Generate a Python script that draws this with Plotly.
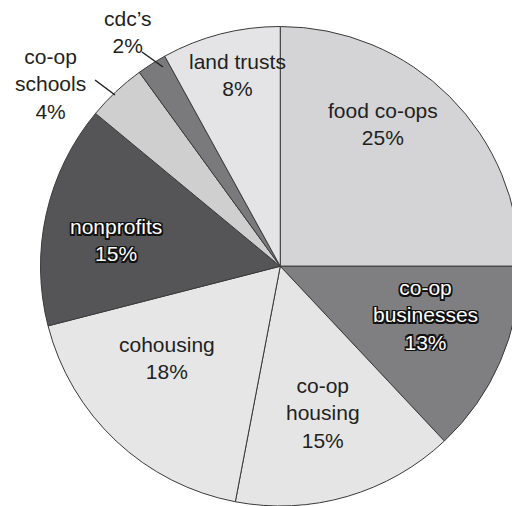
import plotly.graph_objects as go

categories = ["food co-ops", "co-op businesses", "co-op housing", "cohousing",
              "nonprofits", "co-op schools", "cdc's", "land trusts"]
values = [25, 13, 15, 18, 15, 4, 2, 8]
label_texts = ["food co-ops<br>25%", "co-op<br>businesses<br>13%", "co-op<br>housing<br>15%",
               "cohousing<br>18%", "nonprofits<br>15%", "co-op<br>schools<br>4%",
               "cdc\u2019s<br>2%", "land trusts<br>8%"]
colors = ["#d4d4d6", "#7f7f81", "#e5e5e6", "#e6e6e7", "#555557", "#cfcfd0", "#7a7a7c", "#e4e4e6"]
outlined = [False, True, False, False, True, False, False, False]

# browser body margin offsets the figure by 8px; figure is sized to fill the rest
OFF = 8
W, H = 520 - OFF, 506 - OFF
# label centre positions in window pixels (text layout)
label_px = [(383, 124), (425, 315), (323, 413), (167, 358), (116, 240),
            (50, 84), (127, 32), (237, 75)]
# leader lines for the small outside labels (window pixels)
leaders = [((95, 80), (115, 95)), ((142, 52), (163, 67))]

cx, cy, R = 280.5, 266.5, 240


def px2paper(px, py):
    return (px - OFF) / W, 1 - (py - OFF) / H


x0d, y1d = px2paper(cx - R, cy - R)
x1d, y0d = px2paper(cx + R, cy + R)

fig = go.Figure(go.Pie(
    labels=categories, values=values, sort=False, direction="clockwise", rotation=0,
    marker=dict(colors=colors, line=dict(color="#3a3a3a", width=1)),
    textinfo="none", hoverinfo="skip", showlegend=False,
    domain=dict(x=[max(0.0, x0d), min(1.0, x1d)], y=[max(0.0, y0d), min(1.0, y1d)]),
))

annotations = []
for txt, (px, py), ol in zip(label_texts, label_px, outlined):
    font = dict(family="Liberation Sans, Arial, sans-serif", size=21,
                color="white" if ol else "#231f20")
    if ol:
        font["shadow"] = ("1.5px 1.5px 0 #111, -1.5px -1.5px 0 #111, 1.5px -1.5px 0 #111, "
                          "-1.5px 1.5px 0 #111, 0 1.5px 0 #111, 0 -1.5px 0 #111, "
                          "1.5px 0 0 #111, -1.5px 0 0 #111")
    ax, ay = px2paper(px, py)
    annotations.append(dict(x=ax, y=ay, xref="paper", yref="paper",
                            text=txt, showarrow=False, font=font,
                            xanchor="center", yanchor="middle", align="center"))

shapes = []
for (lx0, ly0), (lx1, ly1) in leaders:
    a0, b0 = px2paper(lx0, ly0)
    a1, b1 = px2paper(lx1, ly1)
    shapes.append(dict(type="line", xref="paper", yref="paper",
                       x0=a0, y0=b0, x1=a1, y1=b1,
                       line=dict(color="#231f20", width=1.5)))

fig.update_layout(width=W, height=H, margin=dict(l=0, r=0, t=0, b=0),
                  paper_bgcolor="white", plot_bgcolor="white",
                  annotations=annotations, shapes=shapes)
fig.write_html("out.html")
